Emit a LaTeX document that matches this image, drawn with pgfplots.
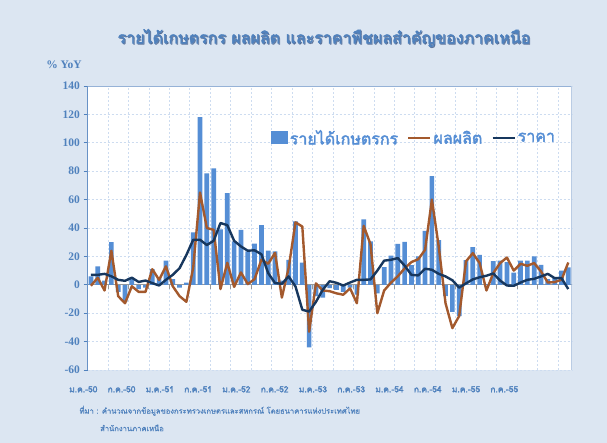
\documentclass[border=0pt]{standalone}
\usepackage{pgfplots}
\pgfplotsset{compat=1.18}
\usepackage{pgfplotstable}
\usepackage{fontspec}
\setmainfont{Liberation Serif}
\newfontfamily\thaifont[Script=Thai]{Loma}
\newfontfamily\thaibold[Script=Thai,FakeBold=2.2]{Loma}
\newfontfamily\thaisemi[Script=Thai,FakeBold=1.2]{Loma}
\definecolor{bgblue}{RGB}{220,230,242}
\definecolor{barblue}{RGB}{85,142,213}
\definecolor{prodbrown}{RGB}{163,89,45}
\definecolor{pricenavy}{RGB}{23,55,94}
\definecolor{txtblue}{RGB}{79,129,189}
\definecolor{titleblue}{RGB}{79,129,189}
\definecolor{shadowblue}{RGB}{40,70,120}
\definecolor{gridc}{RGB}{205,220,240}
\definecolor{framec}{RGB}{150,178,215}

\pgfplotstableread{
i inc prod price
0 6 -0.7 7
1 13 5 7
2 3 -4 7.7
3 30 24 6
4 -5 -8 3.5
5 -12 -13 2.8
6 5 -1 5
7 -3 -5 2
8 -2 -5 3
9 11 11 1.2
10 5 3.5 -0.5
11 17 13 3.5
12 4 -1 7
13 -2 -8 11.7
14 1.5 -12 21
15 37 12 31.7
16 118 65 31.7
17 78.5 40 28
18 82 38.7 31
19 39 -3 43.5
20 64.5 15.5 42
21 30.5 -1.5 31
22 38.7 8.7 27
23 23.5 0.5 24
24 29 4 24.3
25 42 17.6 21.5
26 24 14.8 8.2
27 23.5 22.5 1.2
28 3 -9 0.7
29 17.6 12 5.9
30 44.6 44 -1.2
31 15.7 41 -17.6
32 -44 -33 -18.8
33 -8 1 -12
34 -9 -4 -3.5
35 -2.3 -4.5 2.5
36 -3.5 -6 1.4
37 -5 -7 -0.5
38 -2 -2.5 1.6
39 -7 -13 3.5
40 46 41.5 3.5
41 30.5 28.5 3.8
42 -6 -20 10
43 12.4 -4 17
44 20.5 1.5 17.6
45 28.8 6 18.8
46 30.3 11.5 13.5
47 13.8 16 7
48 20 18 6.6
49 38 24.6 11.3
50 76.5 60 10.6
51 31.5 27 7.7
52 -8 -13 5.9
53 -19 -30.5 3.2
54 -22 -22 -2
55 17.3 16.5 1
56 26.5 22.3 3.8
57 21 15.3 5.3
58 0.5 -4 6.4
59 16.7 8.2 8
60 17 15.3 3
61 16 19.2 -0.5
62 8.5 10 -0.7
63 17 14.8 1.6
64 17 13.4 3.5
65 20 15.3 4.2
66 14 9.4 5.9
67 4 1.6 7.7
68 5 1.9 4.7
69 10 3.5 4.7
70 12.2 15.7 -3
}\data

\begin{document}
\begin{tikzpicture}[x=1pt,y=1pt]
\fill[bgblue] (0,0) rectangle (607,443);
\useasboundingbox (0,0) rectangle (607,443);
\begin{axis}[
  at={(87.5pt,73pt)}, anchor=south west,
  scale only axis, width=484.2pt, height=284pt,
  xmin=-0.5, xmax=70.5, ymin=-60, ymax=140,
  axis background/.style={fill=white},
  axis x line=middle, axis y line=left,
  hide obscured x ticks=false, hide obscured y ticks=false,
  x axis line style={draw=black!40, line width=0.9pt, -},
  y axis line style={draw=txtblue, line width=0.9pt, -},
  xtick={2.5,5.5,...,68.5}, xticklabels={},
  ytick={-60,-40,...,140},
  grid=major,
  grid style={dash pattern=on 2pt off 2pt, color=gridc, line width=0.7pt},
  tick align=outside,
  major tick length=4pt,
  xtick style={draw=black!40, line width=0.8pt},
  ytick style={draw=txtblue, line width=0.8pt},
  /pgf/number format/assume math mode=true,
  yticklabel style={font=\bfseries\fontsize{11.5}{13}\selectfont, text=txtblue},
  legend style={at={(rel axis cs:0.372,0.817)}, anchor=west, draw=none, fill=none,
    font=\thaibold\fontsize{16}{18}\selectfont, text=barblue,
    /tikz/every even column/.append style={column sep=7pt}},
  legend columns=3,
]
\addplot[ybar, bar width=4.7pt, bar shift=0pt, fill=barblue, draw=none,
  legend image code/.code={\fill[barblue] (0pt,-6.5pt) rectangle (17pt,6.5pt);}]
  table[x=i,y=inc]{\data};
\addlegendentry{รายได้เกษตรกร}
\addplot[prodbrown, line width=2.4pt, mark=none, line join=round,
  legend image code/.code={\draw[prodbrown, line width=2.4pt] (0pt,0pt) -- (22pt,0pt);}]
  table[x=i,y=prod]{\data};
\addlegendentry{ผลผลิต}
\addplot[pricenavy, line width=2.4pt, mark=none, line join=round,
  legend image code/.code={\draw[pricenavy, line width=2.4pt] (0pt,0pt) -- (22pt,0pt);}]
  table[x=i,y=price]{\data};
\addlegendentry{ราคา}
\draw[framec, line width=0.8pt] (rel axis cs:0,0) rectangle (rel axis cs:1,1);
\end{axis}
\node[font=\thaibold\fontsize{16}{18}\selectfont, text=shadowblue, opacity=0.55] at (325,404) {รายได้เกษตรกร ผลผลิต และราคาพืชผลสำคัญของภาคเหนือ};
\node[font=\thaibold\fontsize{16}{18}\selectfont, text=titleblue] at (324,405) {รายได้เกษตรกร ผลผลิต และราคาพืชผลสำคัญของภาคเหนือ};
\node[font=\bfseries\fontsize{11.5}{13}\selectfont, text=txtblue] at (64,378) {\% YoY};
\foreach \lab [count=\k from 0] in {ม.ค.-50,ก.ค.-50,ม.ค.-51,ก.ค.-51,ม.ค.-52,ก.ค.-52,ม.ค.-53,ก.ค.-53,ม.ค.-54,ก.ค.-54,ม.ค.-55,ก.ค.-55}
  \node[font=\thaibold\fontsize{8.5}{10}\selectfont, text=txtblue] at ({83.3+38.27*\k},53.7) {\lab};
\node[anchor=west, font=\thaisemi\fontsize{7.6}{9}\selectfont, text=txtblue] at (76,32.3) {ที่มา : คำนวณจากข้อมูลของกระทรวงเกษตรและสหกรณ์ โดยธนาคารแห่งประเทศไทย};
\node[anchor=west, font=\thaisemi\fontsize{7.6}{9}\selectfont, text=txtblue] at (96.7,15) {สำนักงานภาคเหนือ};
\end{tikzpicture}
\end{document}
